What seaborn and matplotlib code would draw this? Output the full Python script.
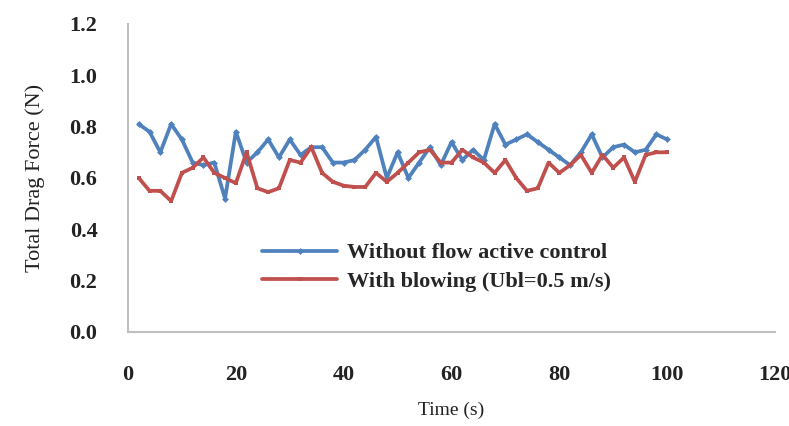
import numpy as np
import pandas as pd
import matplotlib
matplotlib.use("Agg")
import matplotlib.pyplot as plt
import seaborn as sns

# Sampled total drag force over time (s), two flow configurations
time_s = list(range(2, 101, 2))
drag_no_control = [
    0.81, 0.78, 0.70, 0.81, 0.75, 0.66, 0.65, 0.66, 0.52, 0.78,
    0.66, 0.70, 0.75, 0.68, 0.75, 0.69, 0.72, 0.72, 0.66, 0.66,
    0.67, 0.71, 0.76, 0.60, 0.70, 0.60, 0.66, 0.72, 0.65, 0.74,
    0.67, 0.71, 0.67, 0.81, 0.73, 0.75, 0.77, 0.74, 0.71, 0.68,
    0.65, 0.70, 0.77, 0.68, 0.72, 0.73, 0.70, 0.71, 0.77, 0.75,
]
drag_blowing = [
    0.60, 0.55, 0.55, 0.51, 0.62, 0.64, 0.68, 0.62, 0.60, 0.58,
    0.70, 0.56, 0.545, 0.56, 0.67, 0.66, 0.72, 0.62, 0.585, 0.57,
    0.565, 0.565, 0.62, 0.585, 0.62, 0.66, 0.70, 0.71, 0.66, 0.66,
    0.71, 0.68, 0.66, 0.62, 0.67, 0.60, 0.55, 0.56, 0.66, 0.62,
    0.65, 0.69, 0.62, 0.69, 0.64, 0.68, 0.585, 0.69, 0.70, 0.70,
]
series_labels = ["Without flow active control", "With blowing (Ubl=0.5 m/s)"]
x_ticks = [0, 20, 40, 60, 80, 100, 120]
y_ticks = [0.0, 0.2, 0.4, 0.6, 0.8, 1.0, 1.2]

df = pd.DataFrame({
    "Time": time_s * 2,
    "Drag": drag_no_control + drag_blowing,
    "Case": [series_labels[0]] * len(time_s) + [series_labels[1]] * len(time_s),
})

sns.set_theme(style="white")
plt.rcParams["font.family"] = ["Liberation Serif", "DejaVu Serif"]

fig = plt.figure(figsize=(7.89, 4.26), dpi=100)
ax = fig.add_axes([0.1622, 0.2207, 0.8201, 0.723])

sns.lineplot(
    data=df, x="Time", y="Drag", hue="Case", style="Case",
    palette=["#4F81BD", "#C0504D"], markers=["D", "s"], dashes=False,
    linewidth=2.7, markersize=3.5, markeredgewidth=0, ax=ax,
)

ax.set_xlim(0, 120)
ax.set_ylim(0, 1.2)
ax.set_xticks(x_ticks)
ax.set_yticks(y_ticks)
ax.set_xticklabels([str(v) for v in x_ticks], fontsize=16, fontweight="bold", color="#222222")
ax.set_yticklabels([f"{v:.1f}" for v in y_ticks], fontsize=16, fontweight="bold", color="#222222")
ax.tick_params(axis="both", length=0)
ax.tick_params(axis="x", pad=24)
ax.tick_params(axis="y", pad=22)

ax.set_xlabel("Time (s)", fontsize=14, color="#222222", labelpad=12)
ax.set_ylabel("Total Drag Force (N)", fontsize=16, color="#222222", labelpad=18)

for side in ["top", "right"]:
    ax.spines[side].set_visible(False)
for side in ["left", "bottom"]:
    ax.spines[side].set_color("#BFBFBF")
    ax.spines[side].set_linewidth(1.5)

handles, labels = ax.get_legend_handles_labels()
ax.legend(
    handles, labels, loc="center left", bbox_to_anchor=(0.207, 0.21),
    frameon=False, borderpad=0, borderaxespad=0,
    handlelength=3.4, handletextpad=0.45, labelspacing=0.35,
    prop={"family": "Liberation Serif", "weight": "bold", "size": 16},
)

fig.savefig("out.png", dpi=100)
